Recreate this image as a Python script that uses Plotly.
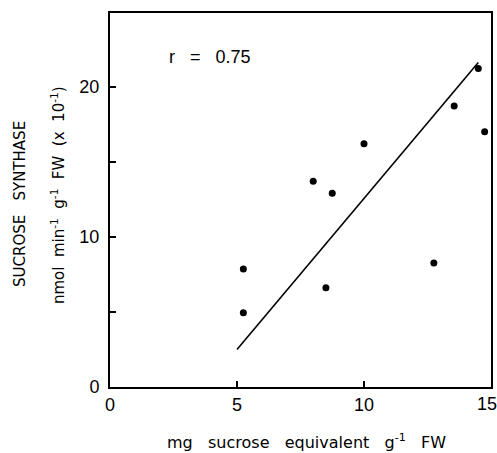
import plotly.graph_objects as go

sucrose = [14.5, 13.55, 14.75, 10.0, 8.0, 8.75, 5.25, 5.25, 8.5, 12.75]
synthase = [21.2, 18.7, 17.0, 16.2, 13.7, 12.9, 7.85, 4.95, 6.6, 8.25]
fit_x = [5.0, 14.5]
fit_y = [2.5, 21.6]
x_ticks = [0, 5, 10, 15]
x_labels = ["0", "5", "10", ""]
y_ticks = [0, 5, 10, 15, 20]
y_labels = ["0", "", "10", "", "20"]

NUM = "Liberation Sans, Arial, sans-serif"
TXT = "DejaVu Sans, sans-serif"

W, H = 497, 453
L, R, T, B = 110, 6, 13, 66
plot_w = W - L - R
plot_h = H - T - B


def px_x(px):
    return (px - L) / plot_w


def px_y(py):
    return (H - B - py) / plot_h


fig = go.Figure()
fig.add_trace(go.Scatter(x=fit_x, y=fit_y, mode="lines",
                         line=dict(color="black", width=1.6), showlegend=False))
fig.add_trace(go.Scatter(x=sucrose, y=synthase, mode="markers",
                         marker=dict(color="black", size=7), showlegend=False))

fig.update_layout(
    template="none",
    width=W, height=H,
    margin=dict(l=L, r=R, t=T, b=B),
    paper_bgcolor="white", plot_bgcolor="white",
    font=dict(family=NUM, color="black", size=18),
    xaxis=dict(range=[0, 15], tickvals=x_ticks, ticktext=x_labels, ticks="inside",
               ticklen=6, tickwidth=1.5, tickcolor="black", showline=True,
               linecolor="black", linewidth=2, mirror=True, showgrid=False,
               zeroline=False, tickfont=dict(size=18, family=NUM, color="black"),
               fixedrange=True),
    yaxis=dict(range=[0, 24.9], tickvals=y_ticks, ticktext=y_labels, ticks="inside",
               ticklen=6, tickwidth=1.5, tickcolor="black", showline=True,
               linecolor="black", linewidth=2, mirror=True, showgrid=False,
               zeroline=False, tickfont=dict(size=18, family=NUM, color="black"),
               ticklabelstandoff=5, fixedrange=True),
    annotations=[
        dict(text="r   =   0.75", x=px_x(167), y=px_y(57), xref="paper", yref="paper",
             showarrow=False, xanchor="left", yanchor="middle",
             font=dict(size=18, family=NUM, color="black")),
        dict(text="15", x=px_x(487), y=px_y(404), xref="paper", yref="paper",
             showarrow=False, xanchor="center", yanchor="middle",
             font=dict(size=18, family=NUM, color="black")),
        dict(text="mg   sucrose   equivalent   g<sup>-1</sup>   FW",
             x=px_x(306), y=px_y(442), xref="paper", yref="paper", showarrow=False,
             xanchor="center", yanchor="middle",
             font=dict(size=16, family=TXT, color="black")),
        dict(text="SUCROSE   SYNTHASE", textangle=-90, xref="paper", yref="paper",
             x=px_x(20), y=px_y(204), xanchor="center", yanchor="middle",
             showarrow=False, font=dict(size=15, family=TXT, color="black")),
        dict(text="nmol  min<sup>-1</sup>  g<sup>-1</sup>  FW  (x  10<sup>-1</sup>)",
             textangle=-90, xref="paper", yref="paper", x=px_x(58), y=px_y(195),
             xanchor="center", yanchor="middle", showarrow=False,
             font=dict(size=15, family=TXT, color="black")),
    ],
)

fig.write_html("out.html")
